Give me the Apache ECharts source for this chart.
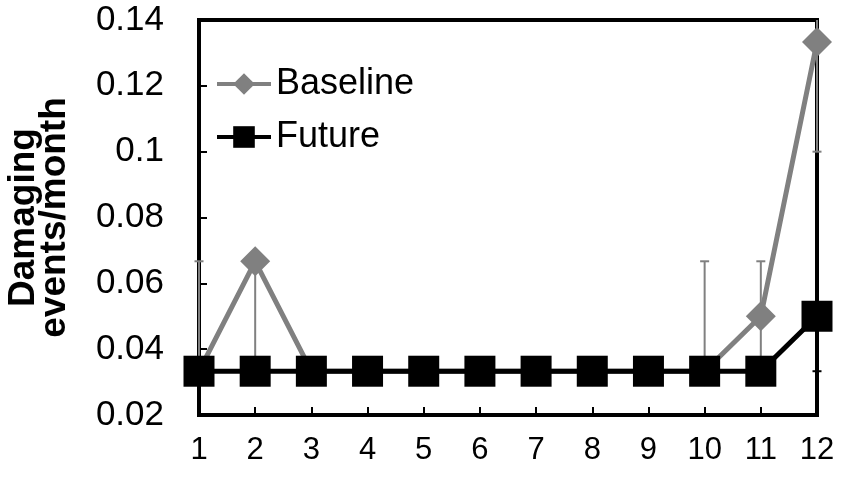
<!DOCTYPE html>
<html><head><meta charset="utf-8">
<script src="https://cdn.jsdelivr.net/npm/echarts@6/dist/echarts.min.js"></script>
<style>html,body{margin:0;padding:0;background:#fff}#c{width:841px;height:481px}</style>
</head><body><div id="c"></div>
<script>
const months = ['1','2','3','4','5','6','7','8','9','10','11','12'];
const baseline = [0.0333,0.0667,0.0333,0.0333,0.0333,0.0333,0.0333,0.0333,0.0333,0.0333,0.05,0.1333];
const baselineLow = [0.0333,0.0333,0.0333,0.0333,0.0333,0.0333,0.0333,0.0333,0.0333,0.0333,0.0333,0.1];
const baselineHigh = [0.0667,0.0667,0.0333,0.0333,0.0333,0.0333,0.0333,0.0333,0.0333,0.0667,0.0667,0.1667];
const future = [0.0333,0.0333,0.0333,0.0333,0.0333,0.0333,0.0333,0.0333,0.0333,0.0333,0.0333,0.05];
const futureLow = [0.0333,0.0333,0.0333,0.0333,0.0333,0.0333,0.0333,0.0333,0.0333,0.0333,0.0333,0.0333];
const futureHigh = [0.0333,0.0333,0.0333,0.0333,0.0333,0.0333,0.0333,0.0333,0.0333,0.0333,0.0333,0.05];
const yTicks = [0.02,0.04,0.06,0.08,0.1,0.12,0.14];

const FONT = '"Liberation Sans", Arial, sans-serif';
const chart = echarts.init(document.getElementById('c'), null, {renderer:'canvas'});

function errData(low, high){
  return months.map((m,i)=>[i, low[i], high[i]]);
}
function errRender(color){
  return function(params, api){
    const x = api.value(0);
    const lo = api.value(1), hi = api.value(2);
    if (lo === hi) return null;
    const p1 = api.coord([x, lo]);
    const p2 = api.coord([x, hi]);
    const cs = params.coordSys;
    const top = cs.y, bot = cs.y + cs.height;
    const cy = (y)=>Math.max(top, Math.min(bot, y));
    const children = [{type:'line', shape:{x1:p1[0],y1:cy(p1[1]),x2:p2[0],y2:cy(p2[1])}, style:{stroke:color,lineWidth:2}}];
    [p1,p2].forEach(p=>{
      if (p[1] >= top && p[1] <= bot) children.push({type:'line', shape:{x1:p[0]-4.5,y1:p[1],x2:p[0]+4.5,y2:p[1]}, style:{stroke:color,lineWidth:2}});
    });
    return {type:'group', children};
  };
}

chart.setOption({
  animation:false,
  backgroundColor:'#fff',
  grid:{left:199,right:24,top:20,bottom:66,containLabel:false,outerBoundsMode:'none',
        show:true,borderColor:'#000',borderWidth:4,backgroundColor:'transparent'},
  legend:{
    left:210, top:61, orient:'vertical', itemWidth:54, itemHeight:27, itemGap:17,
    lineStyle:{width:4},
    textStyle:{fontFamily:FONT,fontSize:36,lineHeight:36,color:'#000',padding:0},
    data:['Baseline','Future']
  },
  xAxis:{
    type:'category', data:months, boundaryGap:false,
    axisLine:{lineStyle:{color:'#000',width:4}},
    axisTick:{inside:true,length:8,lineStyle:{color:'#000',width:2}},
    axisLabel:{fontFamily:FONT,fontSize:31,color:'#000',margin:20},
    splitLine:{show:false}
  },
  yAxis:{
    type:'value', min:yTicks[0], max:yTicks[yTicks.length-1], interval:0.02,
    name:'Damaging\nevents/month', nameLocation:'middle', nameGap:129, nameRotate:90,
    nameTextStyle:{fontFamily:FONT,fontSize:37,fontWeight:'bold',color:'#000',lineHeight:31},
    axisLine:{show:true,lineStyle:{color:'#000',width:4}},
    axisTick:{show:true,inside:true,length:8,lineStyle:{color:'#000',width:2}},
    axisLabel:{fontFamily:FONT,fontSize:35,color:'#000',margin:35,formatter:v=>String(+v.toFixed(2))},
    splitLine:{show:false}
  },
  series:[
    {type:'custom', name:'errB', renderItem:errRender('#808080'), data:errData(baselineLow,baselineHigh), z:1, clip:false, silent:true, encode:{x:0,y:[1,2]}},
    {type:'line', name:'Baseline', data:baseline, color:'#808080', symbol:'diamond', symbolSize:30,
      lineStyle:{color:'#808080',width:5}, itemStyle:{color:'#808080'}, z:2},
    {type:'custom', name:'errF', renderItem:errRender('#000'), data:errData(futureLow,futureHigh), z:3, clip:false, silent:true, encode:{x:0,y:[1,2]}},
    {type:'line', name:'Future', data:future, color:'#000', symbol:'rect', symbolSize:31,
      lineStyle:{color:'#000',width:5}, itemStyle:{color:'#000'}, z:4}
  ]
});
</script></body></html>
